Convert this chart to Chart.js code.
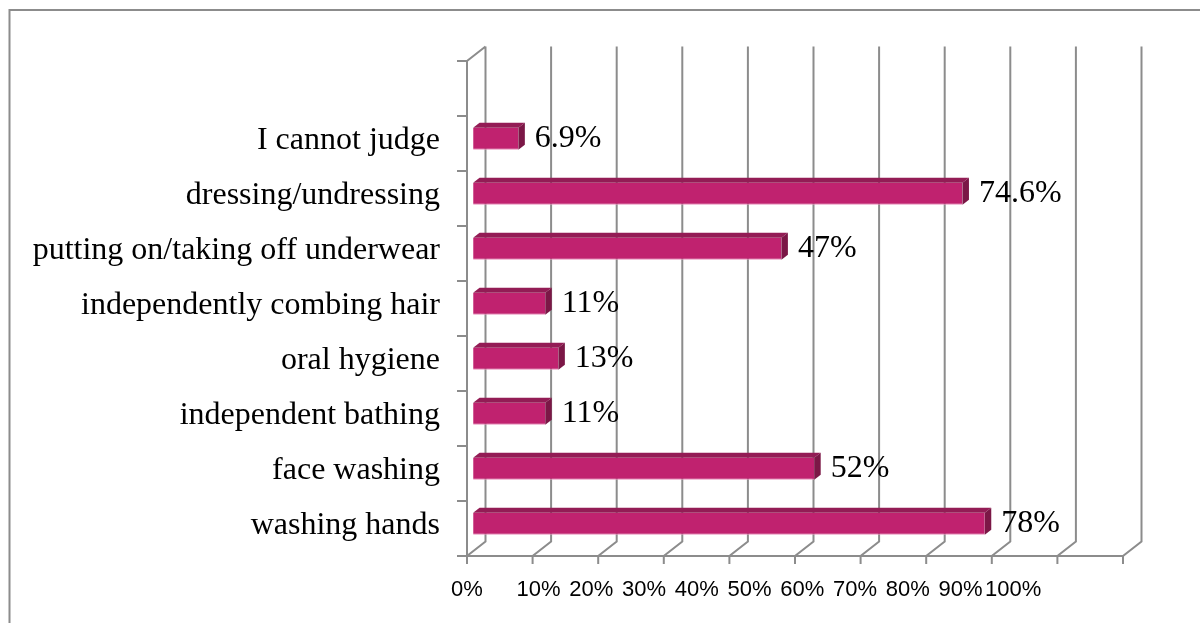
<!DOCTYPE html>
<html>
<head>
<meta charset="utf-8">
<script src="https://cdn.jsdelivr.net/npm/chart.js@4.4.0/dist/chart.umd.min.js"></script>
<style>
  html, body { margin: 0; padding: 0; background: #fff; }
  #wrap { width: 1200px; height: 623px; }
</style>
</head>
<body>
<div id="wrap"><canvas id="chart" width="1200" height="623"></canvas></div>
<script>
// --- Data ---
const categories = [
  '',
  'I cannot judge',
  'dressing/undressing',
  'putting on/taking off underwear',
  'independently combing hair',
  'oral hygiene',
  'independent bathing',
  'face washing',
  'washing hands'
];
const shares     = [null, 6.9, 74.6, 47, 11, 13, 11, 52, 78];
const tickValues = [0, 10, 20, 30, 40, 50, 60, 70, 80, 90, 100];
const tickLabels = ['0%', '10%', '20%', '30%', '40%', '50%', '60%', '70%', '80%', '90%', '100%'];

// --- Look ---
const LINE  = '#8c8c8c';
const FRONT = '#c0226f';
const TOP   = '#931c55';
const SIDE  = '#7b1746';
const SERIF = '"Liberation Serif", "Times New Roman", serif';
const DEPTH = { x: 18.5, y: -14.5 };   // floor front edge -> back wall
const BAR_FRONT = 0.33;                // bar slab sits in the middle of the depth
const BAR_BACK  = 0.68;

// axis labels after 0% are packed together, one label width apart
const LABEL_FIRST = 10.9;
const LABEL_STEP  = 8.04;
const labelSpot = i => (i === 0 ? 0 : LABEL_FIRST + (i - 1) * LABEL_STEP);

function fillPoly(ctx, pts, color) {
  ctx.beginPath();
  ctx.moveTo(pts[0][0], pts[0][1]);
  for (let k = 1; k < pts.length; k++) ctx.lineTo(pts[k][0], pts[k][1]);
  ctx.closePath();
  ctx.fillStyle = color;
  ctx.fill();
}

// --- 3D box: frame, back wall, floor, bar tops and sides ---
const box3d = {
  id: 'box3d',
  beforeDraw(chart) {
    const ctx = chart.ctx;
    ctx.save();
    ctx.strokeStyle = LINE;
    ctx.lineWidth = 2;
    ctx.strokeRect(9.5, 10, 1400, 900);
    ctx.restore();
  },
  beforeDatasetsDraw(chart) {
    const { ctx, chartArea: a, scales: { x, y } } = chart;
    ctx.save();
    ctx.strokeStyle = LINE;
    ctx.lineWidth = 2;
    ctx.beginPath();
    tickValues.forEach(v => {
      const px = x.getPixelForValue(v);
      ctx.moveTo(px + DEPTH.x, a.top + DEPTH.y);
      ctx.lineTo(px + DEPTH.x, a.bottom + DEPTH.y);
      ctx.lineTo(px, a.bottom);
      ctx.lineTo(px, a.bottom + 8);
    });
    const x0 = x.getPixelForValue(0);
    ctx.moveTo(x0 + DEPTH.x, a.top + DEPTH.y);
    ctx.lineTo(x0, a.top);
    ctx.lineTo(x0, a.bottom);
    ctx.lineTo(x.getPixelForValue(100), a.bottom);
    for (let i = 0; i <= categories.length; i++) {
      const py = y.getPixelForValue(i - 0.5);
      ctx.moveTo(x0 - 10, py);
      ctx.lineTo(x0, py);
    }
    ctx.stroke();
    ctx.restore();

    // front faces are drawn by Chart.js, pushed back into the box
    ctx.save();
    ctx.translate(DEPTH.x * BAR_FRONT, DEPTH.y * BAR_FRONT);
  },
  afterDatasetsDraw(chart) {
    const ctx = chart.ctx;
    ctx.restore();

    const fx = DEPTH.x * BAR_FRONT, fy = DEPTH.y * BAR_FRONT;
    const dx = DEPTH.x * (BAR_BACK - BAR_FRONT), dy = DEPTH.y * (BAR_BACK - BAR_FRONT);
    const meta = chart.getDatasetMeta(0);
    ctx.save();
    meta.data.forEach((bar, i) => {
      if (shares[i] == null) return;
      const p = bar.getProps(['x', 'y', 'base', 'height'], true);
      const top = p.y - p.height / 2 + fy;
      const bottom = p.y + p.height / 2 + fy;
      const l = p.base + fx, r = p.x + fx;
      fillPoly(ctx, [[l, top], [r, top], [r + dx, top + dy], [l + dx, top + dy]], TOP);
      fillPoly(ctx, [[r, top], [r + dx, top + dy], [r + dx, bottom + dy], [r, bottom]], SIDE);

      ctx.fillStyle = '#000';
      ctx.font = '32px ' + SERIF;
      ctx.textAlign = 'left';
      ctx.textBaseline = 'middle';
      ctx.fillText(shares[i] + '%', r + dx + 10, p.y + fy);
    });
    ctx.restore();
  }
};

// --- Chart ---
new Chart(document.getElementById('chart'), {
  type: 'bar',
  data: {
    labels: categories,
    datasets: [{
      data: shares,
      backgroundColor: FRONT,
      borderColor: '#e68db8',
      borderWidth: { top: 0, right: 0, bottom: 1, left: 0 },
      borderSkipped: false,
      barPercentage: 0.4,
      categoryPercentage: 1
    }]
  },
  options: {
    indexAxis: 'y',
    responsive: false,
    animation: false,
    layout: { padding: { top: 61, right: 77, bottom: 0, left: 0 } },
    plugins: { legend: { display: false }, tooltip: { enabled: false } },
    scales: {
      x: {
        type: 'linear',
        min: 0,
        max: 100,
        display: false
      },
      x2: {
        type: 'linear',
        position: 'bottom',
        min: 0,
        max: 100,
        grid: { display: false, drawTicks: false },
        border: { display: false },
        afterBuildTicks(scale) {
          scale.ticks = tickLabels.map((_, i) => ({ value: labelSpot(i) }));
        },
        ticks: {
          autoSkip: false,
          maxRotation: 0,
          color: '#000',
          font: { family: 'Liberation Sans', size: 22 },
          padding: 21,
          callback: (v, i) => tickLabels[i]
        },
        afterFit(scale) { scale.height = 67; }
      },
      y: {
        grid: { display: false, drawTicks: false },
        border: { display: false },
        ticks: {
          color: '#000',
          font: { family: SERIF, size: 32 },
          padding: 27,
          labelOffset: -3
        },
        afterFit(scale) { scale.width = 467; }
      }
    }
  },
  plugins: [box3d]
});
</script>
</body>
</html>
